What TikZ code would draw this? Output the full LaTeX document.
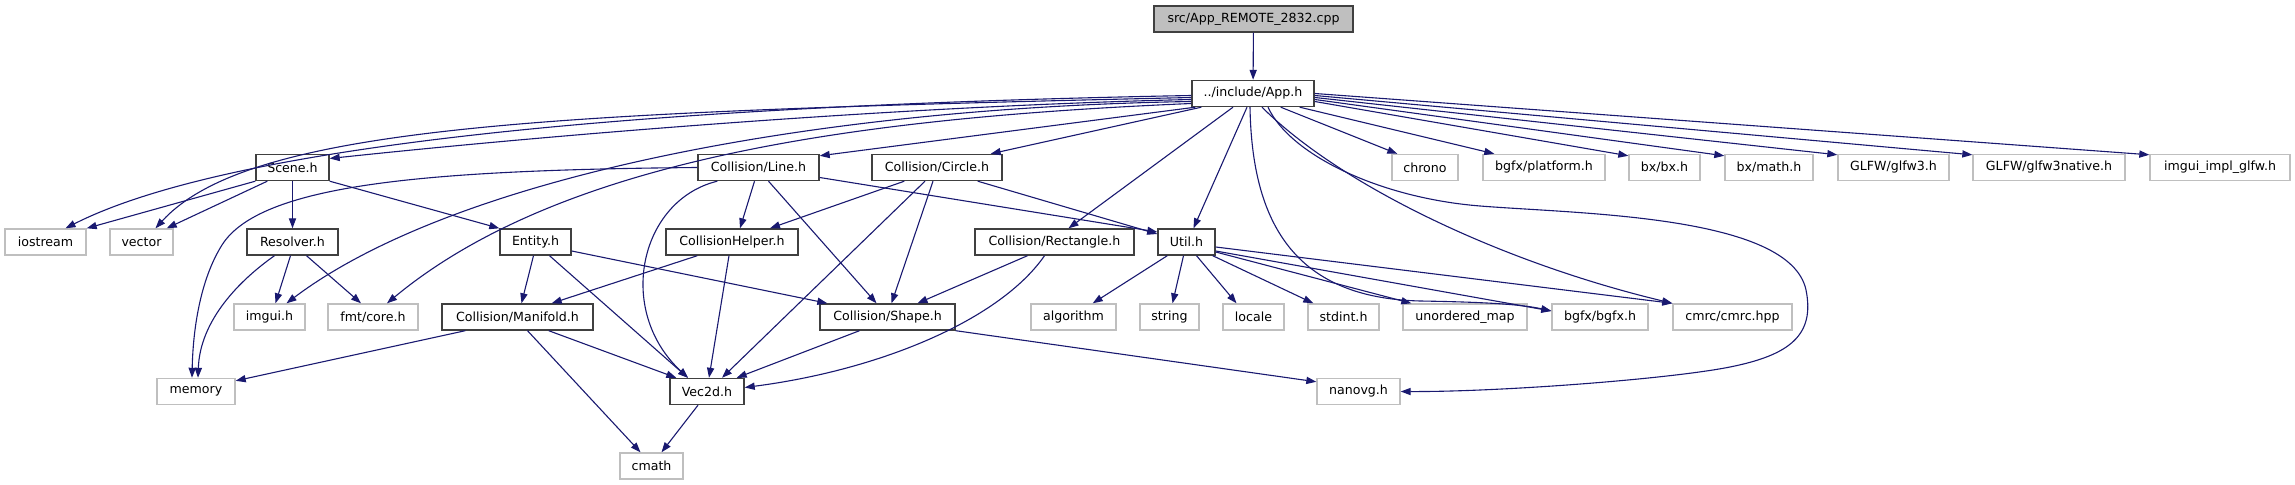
\documentclass[tikz,border=0pt]{standalone}
\usepackage{fontspec}
\setmainfont{DejaVu Sans}
\usetikzlibrary{arrows.meta,calc}
\definecolor{edgec}{HTML}{191970}
\definecolor{sysc}{HTML}{BFBFBF}
\definecolor{locc}{HTML}{404040}
\begin{document}
\begin{tikzpicture}[x=0.5pt,y=-0.5pt,
  box/.style={draw, minimum height=13pt, inner sep=0pt, font=\fontsize{6.3}{7.5}\selectfont, line width=0.7pt},
  loc/.style={box, draw=locc},
  sys/.style={box, draw=sysc},
  edge/.style={draw=edgec, line width=0.55pt, -{Triangle[length=5pt,width=3.6pt]}}]
\useasboundingbox (0,0) rectangle (2295,485);
% row 1-2
\node[loc, fill=sysc, minimum width=99.5pt] (top) at (1253.5,19) {src/App\_REMOTE\_2832.cpp};
\node[loc, minimum width=61pt] (app) at (1253,93.5) {../include/App.h};
% row 3
\node[loc, minimum width=36.5pt] (scene) at (292.5,167.5) {Scene.h};
\node[loc, minimum width=60.5pt] (line) at (758.5,167.5) {Collision/Line.h};
\node[loc, minimum width=65pt] (circle) at (937,167.5) {Collision/Circle.h};
\node[sys, minimum width=33pt] (chrono) at (1425,167.5) {chrono};
\node[sys, minimum width=61pt] (platform) at (1544,167.5) {bgfx/platform.h};
\node[sys, minimum width=35.5pt] (bxbx) at (1664.5,167.5) {bx/bx.h};
\node[sys, minimum width=44pt] (bxmath) at (1769,167.5) {bx/math.h};
\node[sys, minimum width=55.5pt] (glfw) at (1893.5,167.5) {GLFW/glfw3.h};
\node[sys, minimum width=76pt] (glfwn) at (2049,167.5) {GLFW/glfw3native.h};
\node[sys, minimum width=70pt] (implg) at (2220,167.5) {imgui\_impl\_glfw.h};
% row 4
\node[sys, minimum width=40.5pt] (iostream) at (45.5,242) {iostream};
\node[sys, minimum width=31.5pt] (vector) at (141.5,242) {vector};
\node[loc, minimum width=45.5pt] (resolver) at (292.5,242) {Resolver.h};
\node[loc, minimum width=35.5pt] (entity) at (535.5,242) {Entity.h};
\node[loc, minimum width=66pt] (helper) at (732,242) {CollisionHelper.h};
\node[loc, minimum width=79.5pt] (rect) at (1054.5,242) {Collision/Rectangle.h};
\node[loc, minimum width=28.5pt] (util) at (1186.5,242) {Util.h};
% row 5
\node[sys, minimum width=35.5pt] (imgui) at (269.5,317) {imgui.h};
\node[sys, minimum width=45pt] (fmt) at (373,317) {fmt/core.h};
\node[loc, minimum width=75.5pt] (manifold) at (517.5,317) {Collision/Manifold.h};
\node[loc, minimum width=67.5pt] (shape) at (887.5,317) {Collision/Shape.h};
\node[sys, minimum width=42.5pt] (algorithm) at (1073.5,317) {algorithm};
\node[sys, minimum width=29.5pt] (string) at (1169.5,317) {string};
\node[sys, minimum width=30.5pt] (locale) at (1253.5,317) {locale};
\node[sys, minimum width=35.5pt] (stdint) at (1343.5,317) {stdint.h};
\node[sys, minimum width=62pt] (umap) at (1465,317) {unordered\_map};
\node[sys, minimum width=48pt] (bgfx) at (1600,317) {bgfx/bgfx.h};
\node[sys, minimum width=59.5pt] (cmrc) at (1732.5,317) {cmrc/cmrc.hpp};
% row 6-7
\node[sys, minimum width=39pt] (memory) at (196,391.5) {memory};
\node[loc, minimum width=37pt] (vec) at (707,391.5) {Vec2d.h};
\node[sys, minimum width=41.5pt] (nanovg) at (1358.5,391.5) {nanovg.h};
\node[sys, minimum width=31.5pt] (cmath) at (651.5,466) {cmath};

% edges
\draw[edge] (top) -- (app);
% App.h
\draw[edge] ($(app.west)+(0,2)$) .. controls (520,108) and (200,160) .. ($(iostream.north)+(20,0)$);
\draw[edge] ($(app.west)+(0,4)$) .. controls (550,112) and (250,125) .. ($(vector.north)+(14,0)$);
\draw[edge] ($(app.west)+(0,6)$) .. controls (900,106) and (550,135) .. ($(scene.east)+(0,-9)$);
\draw[edge] ($(app.west)+(0,8)$) .. controls (800,108) and (450,180) .. ($(imgui.north)+(17,0)$);
\draw[edge] ($(app.west)+(0,10)$) .. controls (850,118) and (560,160) .. ($(fmt.north)+(14,0)$);
\draw[edge] ($(app.south west)+(4,0)$) -- ($(line.north east)+(0,2)$);
\draw[edge] ($(app.south west)+(10,0)$) -- ($(circle.north east)+(-12,0)$);
\draw[edge] ($(app.south)+(-20,0)$) -- ($(rect.north)+(14,0)$);
\draw[edge] ($(app.south)+(-6,0)$) -- ($(util.north)+(7,0)$);
\draw[edge] ($(app.south)+(-3,0)$) .. controls (1252,230) and (1300,298) .. (1420,301)
  .. controls (1480,302) and (1520,304) .. ($(bgfx.west)+(0,-6)$);
\draw[edge] ($(app.south)+(9,0)$) .. controls (1340,185) and (1500,262) .. (cmrc.north west);
\draw[edge] ($(app.south)+(15,0)$) .. controls (1290,155) and (1380,198) .. (1480,206)
  .. controls (1580,214) and (1790,215) .. (1806,290)
  .. controls (1815,335) and (1790,355) .. (1730,367)
  .. controls (1670,379) and (1500,392) .. (nanovg.east);
\draw[edge] ($(app.south east)+(-34,0)$) -- ($(chrono.north west)+(6,0)$);
\draw[edge] ($(app.south east)+(-15,0)$) -- ($(platform.north west)+(12,0)$);
\draw[edge] ($(app.east)+(0,8)$) -- ($(bxbx.north west)+(0,2)$);
\draw[edge] ($(app.east)+(0,6)$) -- ($(bxmath.north west)+(0,2)$);
\draw[edge] ($(app.east)+(0,4)$) -- ($(glfw.north west)+(0,1)$);
\draw[edge] ($(app.east)+(0,2)$) -- ($(glfwn.north west)+(0,1)$);
\draw[edge] (app.east) -- ($(implg.north west)+(0,1)$);
% Scene.h
\draw[edge] (scene.south west) -- (iostream.north east);
\draw[edge] ($(scene.south west)+(12,0)$) -- ($(vector.north east)+(-7,0)$);
\draw[edge] (scene) -- (resolver);
\draw[edge] (scene.south east) -- (entity.north west);
% Resolver.h
\draw[edge] ($(resolver.south)+(-18,0)$) .. controls (240,280) and (200,320) .. ($(memory.north)+(2,0)$);
\draw[edge] ($(resolver.south)+(-2,0)$) -- ($(imgui.north)+(6,0)$);
\draw[edge] ($(resolver.south)+(14,0)$) -- ($(fmt.north)+(-12,0)$);
% Collision/Line.h
\draw[edge] (line.west) .. controls (420,170) and (260,185) .. (222,245)
  .. controls (200,280) and (193,330) .. ($(memory.north)+(-4,0)$);
\draw[edge] ($(line.south)+(-4,0)$) -- ($(helper.north)+(8,0)$);
\draw[edge] ($(line.south)+(10,0)$) -- ($(shape.north)+(-11,0)$);
\draw[edge] ($(line.south west)+(20,0)$) .. controls (640,200) and (615,310) .. ($(vec.north)+(-19,0)$);
\draw[edge] ($(line.east)+(0,10)$) -- ($(util.west)+(0,-10)$);
% Collision/Circle.h
\draw[edge] ($(circle.south west)+(33,0)$) -- ($(helper.north)+(38,0)$);
\draw[edge] ($(circle.south)+(-12,0)$) -- ($(vec.north)+(15,0)$);
\draw[edge] ($(circle.south)+(-4,0)$) -- ($(shape.north)+(4,0)$);
\draw[edge] ($(circle.south east)+(-25,0)$) -- ($(util.west)+(0,-8)$);
% Collision/Rectangle.h
\draw[edge] ($(rect.south)+(-27,0)$) -- ($(shape.north)+(30,0)$);
\draw[edge] ($(rect.south)+(-10,0)$) .. controls (1000,320) and (880,370) .. ($(vec.east)+(0,-4)$);
% CollisionHelper.h
\draw[edge] ($(helper.south west)+(32,0)$) -- ($(manifold.north east)+(-42,0)$);
\draw[edge] ($(helper.south)+(-3,0)$) -- ($(vec.north)+(2,0)$);
% Entity.h
\draw[edge] ($(entity.south)+(-2,0)$) -- ($(manifold.north)+(4,0)$);
\draw[edge] ($(entity.south)+(14,0)$) -- ($(vec.north)+(-19,0)$);
\draw[edge] ($(entity.east)+(0,9)$) -- ($(shape.north west)+(8,0)$);
% Collision/Manifold.h
\draw[edge] ($(manifold.south west)+(24,0)$) -- ($(memory.north east)+(0,3)$);
\draw[edge] ($(manifold.south east)+(-45,0)$) -- ($(vec.north west)+(7,0)$);
\draw[edge] ($(manifold.south)+(10,0)$) -- ($(cmath.north)+(-11,0)$);
% Collision/Shape.h
\draw[edge] ($(shape.south)+(-28,0)$) -- ($(vec.north east)+(-8,0)$);
\draw[edge] (shape.south east) -- ($(nanovg.north west)+(0,4)$);
% Vec2d.h
\draw[edge] ($(vec.south)+(-9,0)$) -- ($(cmath.north)+(10,0)$);
% Util.h
\draw[edge] ($(util.south west)+(10,0)$) -- ($(algorithm.north east)+(-24,0)$);
\draw[edge] ($(util.south)+(-3,0)$) -- ($(string.north)+(3,0)$);
\draw[edge] ($(util.south)+(10,0)$) -- ($(locale.north)+(-17,0)$);
\draw[edge] ($(util.south east)+(-3,0)$) -- ($(stdint.north west)+(6,0)$);
\draw[edge] ($(util.east)+(0,10)$) -- ($(umap.north west)+(9,0)$);
\draw[edge] ($(util.east)+(0,9)$) -- ($(bgfx.west)+(0,-6)$);
\draw[edge] ($(util.east)+(0,5)$) -- (cmrc.north west);
\end{tikzpicture}
\end{document}
